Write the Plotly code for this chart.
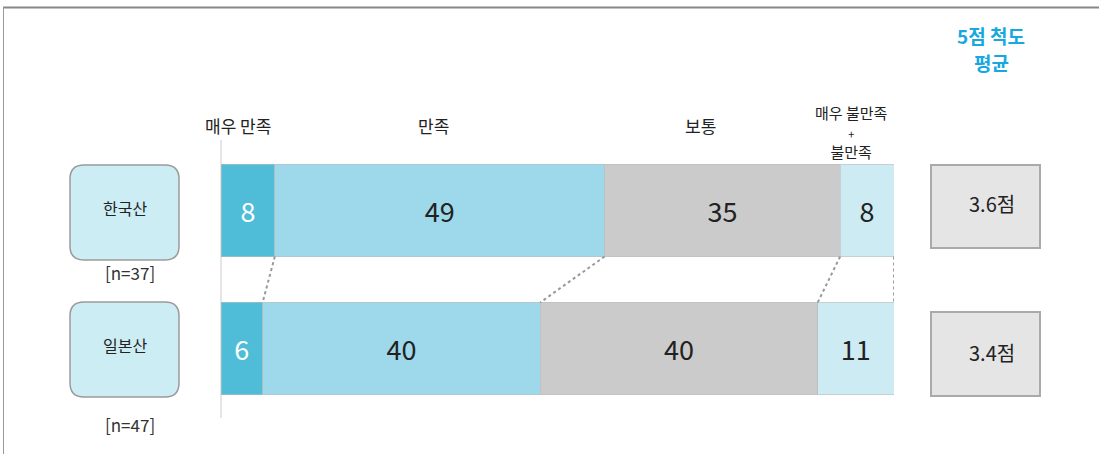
import plotly.graph_objects as go

categories = ["한국산", "일본산"]
sample_sizes = ["[n=37]", "[n=47]"]
segments = ["매우 만족", "만족", "보통", "매우 불만족<br>+<br>불만족"]
very_satisfied = [8, 6]
satisfied = [49, 40]
neutral = [35, 40]
dissatisfied = [8, 11]
averages = ["3.6점", "3.4점"]
avg_title = ["5점 척도", "평균"]

series = [very_satisfied, satisfied, neutral, dissatisfied]
colors = ["#4fbdd8", "#9dd9ea", "#cbcbcb", "#cdebf3"]
text_colors = ["#ffffff", "#222222", "#222222", "#222222"]

FONT = "Noto Sans CJK KR"
W, H = 1099, 454
bar_w = 0.667

fig = go.Figure()
for vals, name, col, tc in zip(series, segments, colors, text_colors):
    fig.add_trace(go.Bar(
        y=categories, x=vals, orientation="h", name=name,
        marker=dict(color=col, line=dict(color="rgba(190,190,190,0.6)", width=1)),
        text=[str(v) for v in vals], texttemplate="%{text}",
        textposition="inside", insidetextanchor="middle",
        textfont=dict(color=tc, size=27, family=FONT),
        width=bar_w, hoverinfo="skip",
    ))

def cum_pct(row):
    tot = sum(s[row] for s in series)
    out, c = [], 0
    for s in series:
        c += s[row]
        out.append(c / tot * 100)
    return out

c1, c2 = cum_pct(0), cum_pct(1)
shapes = []
for a, b in zip(c1, c2):
    shapes.append(dict(type="line", xref="x", yref="y", x0=a, y0=0 + bar_w / 2, x1=b, y1=1 - bar_w / 2,
                       line=dict(color="#999999", width=2, dash="dot")))

def py(p):
    return 1 - p / H

def px(p):
    return p / W

def ann(x, y, text, size, color="#222", **kw):
    d = dict(x=px(x), y=py(y), xref="paper", yref="paper", text=text, showarrow=False,
             xanchor="center", yanchor="middle", font=dict(size=size, color=color, family=FONT))
    d.update(kw)
    return d

# frame
shapes.append(dict(type="line", xref="paper", yref="paper", x0=px(3), x1=1, y0=py(7.5), y1=py(7.5),
                   line=dict(color="#888888", width=2)))
shapes.append(dict(type="line", xref="paper", yref="paper", x0=px(3.5), x1=px(3.5), y0=py(7), y1=0,
                   line=dict(color="#999999", width=1)))
# axis line
shapes.append(dict(type="line", xref="paper", yref="paper", x0=px(221), x1=px(221), y0=py(140), y1=py(418),
                   line=dict(color="#dddddd", width=1.5), layer="below"))

annotations = []
left_boxes = [(165, 260), (302, 397)]
r = 14
for (t, b), cat, n, ny in zip(left_boxes, categories, sample_sizes, [272, 424]):
    x0, x1 = 70, 179
    path = (f"M {px(x0+r)},{py(t)} L {px(x1-r)},{py(t)} Q {px(x1)},{py(t)} {px(x1)},{py(t+r)} "
            f"L {px(x1)},{py(b-r)} Q {px(x1)},{py(b)} {px(x1-r)},{py(b)} L {px(x0+r)},{py(b)} "
            f"Q {px(x0)},{py(b)} {px(x0)},{py(b-r)} L {px(x0)},{py(t+r)} Q {px(x0)},{py(t)} {px(x0+r)},{py(t)} Z")
    shapes.append(dict(type="path", xref="paper", yref="paper", path=path,
                       fillcolor="#cdedf4", line=dict(color="#9a9a9a", width=1.5)))
    annotations.append(ann(124.5, (t + b) / 2 - 5, cat, 16))
    annotations.append(ann(130, ny, n, 17, "#333"))

right_boxes = [(165, 248, 204), (312, 396, 352)]
for (t, b, ty), avg in zip(right_boxes, averages):
    shapes.append(dict(type="rect", xref="paper", yref="paper", x0=px(931), x1=px(1040), y0=py(b), y1=py(t),
                       fillcolor="#e5e5e5", line=dict(color="#aaaaaa", width=2)))
    annotations.append(ann(992, ty, avg, 20))

annotations.append(ann(991, 35, f"<b>{avg_title[0]}</b>", 19, "#18a8e0"))
annotations.append(ann(991, 63, f"<b>{avg_title[1]}</b>", 19, "#18a8e0"))

# column headers
for (x, y), lab in zip([(238, 126), (433, 126), (700, 126)], segments[:3]):
    annotations.append(ann(x, y, lab, 17))
last = segments[3].split("<br>")
last_txt = f"{last[0]}<br><span style='font-size:11px'>{last[1]}</span><br>{last[2]}"
annotations.append(ann(851, 132, last_txt, 15))

fig.update_layout(
    barmode="stack", barnorm="percent",
    width=W, height=H, margin=dict(l=0, r=0, t=0, b=0),
    paper_bgcolor="white", plot_bgcolor="white", showlegend=False,
    xaxis=dict(domain=[px(221), px(894)], range=[0, 100], visible=False, fixedrange=True),
    yaxis=dict(domain=[py(417.5), py(141.5)], range=[1.5, -0.5], visible=False, fixedrange=True),
    shapes=shapes, annotations=annotations,
    font=dict(family=FONT),
)

fig.write_html("out.html", config={"displayModeBar": False},
               post_script="document.body.style.margin='0';document.body.style.overflow='hidden';")
